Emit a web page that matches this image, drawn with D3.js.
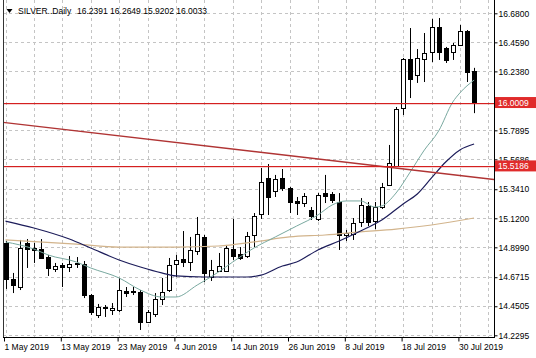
<!DOCTYPE html>
<html><head><meta charset="utf-8">
<script src="https://cdn.jsdelivr.net/npm/d3@7/dist/d3.min.js"></script>
<style>body{margin:0;background:#fff;overflow:hidden}text{font-family:"Liberation Sans",Arial,sans-serif;}</style>
</head><body><svg id="c" width="536" height="358"></svg>
<script>
const dates = ["2019-05-01","2019-05-02","2019-05-03","2019-05-06","2019-05-07","2019-05-08","2019-05-09","2019-05-10","2019-05-13","2019-05-14","2019-05-15","2019-05-16","2019-05-17","2019-05-20","2019-05-21","2019-05-22","2019-05-23","2019-05-24","2019-05-27","2019-05-28","2019-05-29","2019-05-30","2019-05-31","2019-06-03","2019-06-04","2019-06-05","2019-06-06","2019-06-07","2019-06-10","2019-06-11","2019-06-12","2019-06-13","2019-06-14","2019-06-17","2019-06-18","2019-06-19","2019-06-20","2019-06-21","2019-06-24","2019-06-25","2019-06-26","2019-06-27","2019-06-28","2019-07-01","2019-07-02","2019-07-03","2019-07-04","2019-07-05","2019-07-08","2019-07-09","2019-07-10","2019-07-11","2019-07-12","2019-07-15","2019-07-16","2019-07-17","2019-07-18","2019-07-19","2019-07-22","2019-07-23","2019-07-24","2019-07-25","2019-07-26","2019-07-29","2019-07-30","2019-07-31","2019-08-01"];
const open = [14.932,14.658,14.597,14.932,14.894,14.886,14.825,14.734,14.765,14.749,14.780,14.772,14.536,14.384,14.437,14.422,14.422,14.567,14.559,14.559,14.331,14.392,14.506,14.574,14.772,14.810,14.787,14.871,14.978,14.673,14.719,14.719,14.886,14.848,14.833,14.993,15.153,15.427,15.328,15.427,15.351,15.252,15.236,15.183,15.115,15.312,15.305,15.244,14.993,15.000,15.092,15.214,15.099,15.206,15.373,15.518,15.959,16.332,16.211,16.332,16.386,16.576,16.416,16.386,16.439,16.545,16.2391];
const high = [14.947,14.704,14.955,14.962,14.932,14.962,14.841,14.780,14.780,14.833,14.825,14.795,14.544,14.468,14.460,14.475,14.666,14.597,14.597,14.574,14.422,14.551,14.666,14.818,14.841,15.023,14.978,15.130,14.993,14.803,14.856,14.917,15.115,14.901,15.016,15.160,15.503,15.533,15.450,15.495,15.358,15.282,15.312,15.206,15.312,15.450,15.320,15.312,15.031,15.122,15.274,15.244,15.244,15.389,15.678,15.967,16.340,16.568,16.408,16.530,16.637,16.644,16.424,16.454,16.591,16.553,16.2649];
const low = [14.582,14.551,14.574,14.742,14.780,14.810,14.681,14.711,14.597,14.711,14.742,14.513,14.384,14.361,14.369,14.384,14.407,14.521,14.536,14.270,14.323,14.369,14.460,14.559,14.673,14.749,14.719,14.841,14.635,14.643,14.711,14.711,14.803,14.803,14.818,14.901,15.115,15.145,15.282,15.328,15.160,15.145,15.206,15.107,15.099,15.236,15.236,14.879,14.947,14.955,15.054,15.061,15.038,15.191,15.366,15.510,15.906,16.035,16.150,16.157,16.309,16.325,16.302,16.325,16.431,16.157,15.9202];
const close = [14.658,14.612,14.894,14.886,14.879,14.818,14.742,14.757,14.749,14.772,14.772,14.536,14.407,14.445,14.445,14.437,14.574,14.551,14.567,14.331,14.407,14.506,14.559,14.765,14.803,14.787,14.879,15.000,14.704,14.726,14.757,14.894,14.833,14.818,14.985,15.137,15.396,15.282,15.419,15.351,15.244,15.236,15.290,15.137,15.297,15.290,15.259,14.993,15.008,15.084,15.221,15.092,15.206,15.358,15.541,15.952,16.332,16.180,16.340,16.378,16.576,16.386,16.325,16.439,16.545,16.233,16.0033];

// moving averages: [date, value]
const maFast = [["2019-05-01",14.940],["2019-05-07",14.886],["2019-05-09",14.841],["2019-05-15",14.787],["2019-05-17",14.742],["2019-05-23",14.666],["2019-05-28",14.574],["2019-05-31",14.521],["2019-06-04",14.521],["2019-06-07",14.612],["2019-06-12",14.711],["2019-06-14",14.787],["2019-06-19",14.894],["2019-06-24",14.978],["2019-06-27",15.061],["2019-07-02",15.145],["2019-07-04",15.221],["2019-07-08",15.252],["2019-07-10",15.252],["2019-07-12",15.206],["2019-07-15",15.214],["2019-07-17",15.312],["2019-07-19",15.472],["2019-07-23",15.640],["2019-07-25",15.784],["2019-07-29",16.005],["2019-07-30",16.074],["2019-08-01",16.172]];
const maSlow = [["2019-05-01",15.099],["2019-05-07",15.046],["2019-05-14",14.962],["2019-05-17",14.894],["2019-05-23",14.803],["2019-05-28",14.749],["2019-05-31",14.704],["2019-06-04",14.681],["2019-06-10",14.673],["2019-06-18",14.673],["2019-06-20",14.688],["2019-06-25",14.757],["2019-06-27",14.787],["2019-07-02",14.879],["2019-07-05",14.947],["2019-07-10",15.023],["2019-07-15",15.107],["2019-07-18",15.229],["2019-07-22",15.305],["2019-07-24",15.427],["2019-07-26",15.548],["2019-07-30",15.640],["2019-08-01",15.685]];
const maLong = [["2019-05-01",14.955],["2019-05-15",14.924],["2019-05-23",14.901],["2019-06-04",14.901],["2019-06-12",14.909],["2019-06-19",14.940],["2019-06-26",14.978],["2019-07-03",14.993],["2019-07-10",15.016],["2019-07-17",15.038],["2019-07-24",15.069],["2019-08-01",15.122]];

const levels = [16.0009, 15.5186];
const trendDates = ["2019-05-01","2019-08-01"];
const trendValues = [15.848, 15.433];

const priceTicks = [16.68,16.459,16.238,15.7895,15.5686,15.341,15.12,14.899,14.6715,14.4505,14.2295];
const dateTickDates = ["2019-05-01","2019-05-13","2019-05-23","2019-06-04","2019-06-14","2019-06-26","2019-07-08","2019-07-18","2019-07-30"];
const dateTickLabels = ["1 May 2019","13 May 2019","23 May 2019","4 Jun 2019","14 Jun 2019","26 Jun 2019","8 Jul 2019","18 Jul 2019","30 Jul 2019"];
const titleText = "SILVER..Daily";
const titleValues = ["16.2391","16.2649","15.9202","16.0033"];

const svg = d3.select("#c");
const L = 3, R = 494, T = 0, B = 337;
const FS = 8.5;

const x = d3.scaleLinear().domain([0, 66]).range([5.5, 474.1]);
const y = d3.scaleLinear().domain([14.2295, 16.68]).range([335.3, 13.3]);
const idx = d => dates.indexOf(d);

svg.append("clipPath").attr("id","clip").append("rect").attr("x",L).attr("y",T).attr("width",R-L).attr("height",B-T);
const plot = svg.append("g").attr("clip-path","url(#clip)");

// grid
const vGrid = d3.range(0, 69, 4);
plot.selectAll(".vg").data(vGrid).join("line").attr("class","vg")
  .attr("x1", d => Math.round(x(d)) + 0.5).attr("x2", d => Math.round(x(d)) + 0.5)
  .attr("y1", T).attr("y2", B)
  .attr("stroke", "#c4c4c4").attr("stroke-dasharray", "3,3").attr("stroke-width", 1);
plot.selectAll(".hg").data(priceTicks).join("line").attr("class","hg")
  .attr("x1", L).attr("x2", R)
  .attr("y1", d => Math.round(y(d)) + 0.5).attr("y2", d => Math.round(y(d)) + 0.5)
  .attr("stroke", "#c4c4c4").attr("stroke-dasharray", "3,3").attr("stroke-width", 1);

// candles
const bars = d3.range(dates.length);
const cg = plot.append("g");
cg.selectAll(".wick").data(bars).join("line").attr("class","wick")
  .attr("x1", i => Math.round(x(i)) + 0.5).attr("x2", i => Math.round(x(i)) + 0.5)
  .attr("y1", i => y(high[i])).attr("y2", i => y(low[i]))
  .attr("stroke", "#000").attr("stroke-width", 1);
cg.selectAll(".body").data(bars).join("rect").attr("class","body")
  .attr("x", i => Math.round(x(i)) - 2 + 0.5)
  .attr("width", 4)
  .attr("y", i => Math.round(y(Math.max(open[i], close[i]))) + 0.5)
  .attr("height", i => Math.max(1, Math.round(y(Math.min(open[i], close[i]))) - Math.round(y(Math.max(open[i], close[i])))))
  .attr("fill", i => close[i] >= open[i] ? "#fff" : "#000")
  .attr("stroke", "#000").attr("stroke-width", 1);

// moving averages
const line = d3.line().x(d => x(idx(d[0]))).y(d => y(d[1])).curve(d3.curveMonotoneX);
plot.append("path").attr("d", line(maLong)).attr("fill","none").attr("stroke","#d2b48c").attr("stroke-width",1.2);
plot.append("path").attr("d", line(maSlow)).attr("fill","none").attr("stroke","#1c1c5a").attr("stroke-width",1.2);
plot.append("path").attr("d", line(maFast)).attr("fill","none").attr("stroke","#79a9a0").attr("stroke-width",1);

// trend line (ray extended across plot)
const i0 = idx(trendDates[0]), i1 = idx(trendDates[1]);
const slope = (trendValues[1] - trendValues[0]) / (i1 - i0);
const iL = x.invert(L), iR = x.invert(R);
plot.append("line")
  .attr("x1", x(iL)).attr("y1", y(trendValues[0] + slope * (iL - i0)))
  .attr("x2", x(iR)).attr("y2", y(trendValues[0] + slope * (iR - i0)))
  .attr("stroke", "#b03434").attr("stroke-width", 1.4);

// horizontal levels
plot.selectAll(".lvl").data(levels).join("rect").attr("class","lvl")
  .attr("x", L).attr("width", R - L)
  .attr("y", d => Math.round(y(d))).attr("height", 1.2)
  .attr("fill", "#d42020");

// frame
svg.append("line").attr("x1", L+0.5).attr("x2", L+0.5).attr("y1", T).attr("y2", B+0.5).attr("stroke","#333");
svg.append("line").attr("x1", R+0.5).attr("x2", R+0.5).attr("y1", T).attr("y2", B+0.5).attr("stroke","#000");
svg.append("line").attr("x1", L).attr("x2", R+1).attr("y1", B+0.5).attr("y2", B+0.5).attr("stroke","#000");

// price axis
const ya = d3.axisRight(y).tickValues(priceTicks).tickFormat(d3.format(".4f")).tickSize(3).tickPadding(1);
const yg = svg.append("g").attr("transform", `translate(${R+0.5},0)`).call(ya);
yg.select(".domain").remove();
yg.selectAll("text").attr("font-size", FS).attr("fill", "#000").attr("font-family", '"Liberation Sans",Arial,sans-serif');
yg.selectAll("line").attr("stroke", "#000");

// level labels
const lg = svg.selectAll(".lbl").data(levels).join("g").attr("class","lbl");
lg.append("rect").attr("x", R + 1).attr("y", d => y(d) - 5.5).attr("width", 41).attr("height", 11).attr("fill", "#e02b2b");
lg.append("text").attr("x", R + 4).attr("y", d => y(d)).attr("dy", "0.35em")
  .attr("font-size", FS).attr("fill", "#fff").text(d => d3.format(".4f")(d));

// date axis
const xa = d3.axisBottom(x).tickValues(dateTickDates.map(idx)).tickFormat((d, k) => dateTickLabels[k]).tickSize(4).tickPadding(2);
const xg = svg.append("g").attr("transform", `translate(-1.5,${B+0.5})`).call(xa);
xg.select(".domain").remove();
xg.selectAll("line").attr("stroke", "#000");
xg.selectAll("text").attr("font-size", FS).attr("fill", "#000").attr("text-anchor", "start").attr("x", 0)
  .attr("font-family", '"Liberation Sans",Arial,sans-serif');

// title
svg.append("path").attr("d", "M6.5,9 L12.5,9 L9.5,13 Z").attr("fill", "#000");
svg.append("text").attr("x", 18).attr("y", 13.7).attr("font-size", FS).attr("fill", "#000").text(titleText);
svg.append("text").attr("x", 77).attr("y", 13.7).attr("font-size", FS).attr("fill", "#000").text(titleValues.join(" "));
</script></body></html>
